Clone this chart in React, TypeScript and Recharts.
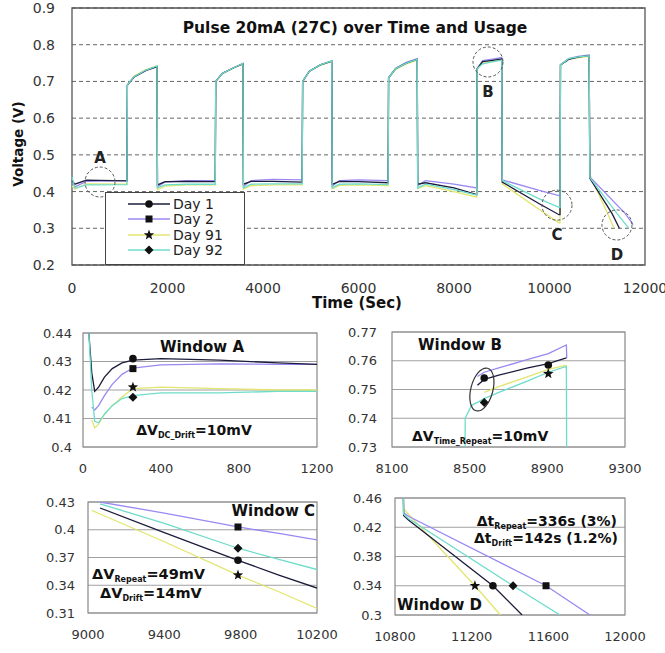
import React from "react";
import {
  LineChart,
  ComposedChart,
  Line,
  Scatter,
  XAxis,
  YAxis,
  CartesianGrid,
  ReferenceArea,
  ReferenceDot,
} from "recharts";

const FONT = '"DejaVu Sans", Verdana, sans-serif';

// series info
const dayNames = ["Day 1", "Day 2", "Day 91", "Day 92"];
const dayKeys = ["d1", "d2", "d91", "d92"];
const dayColors = ["#1c1c3c", "#9a88f2", "#e2e66e", "#6edccb"];
const dayMarkers = ["circle", "square", "star", "diamond"];
const drawOrder = [2, 1, 0, 3];

// main chart (0 - 12000 s)
const mainXTicks = [0, 2000, 4000, 6000, 8000, 10000, 12000];
const mainYTicks = [0.2, 0.3, 0.4, 0.5, 0.6, 0.7, 0.8, 0.9];
const mainTime = [
  0, 60, 300, 1150, 1160, 1300, 1550, 1780, 1790, 1950, 2400, 3000,
  3010, 3150, 3400, 3580, 3590, 3750, 4200, 4820,
  4830, 4970, 5200, 5440, 5450, 5600, 6000, 6620,
  6630, 6780, 7000, 7230, 7240, 7400, 8000, 8476,
  8486, 8600, 8800, 9000, 9010, 9786, 10200, 10220,
  10230, 10400, 10600, 10830, 10845, 11217, 11311, 11350, 11416, 11463, 11588, 11661, 11750,
];
const mainDay1 = [
  0.43, 0.42, 0.431, 0.429, 0.69, 0.712, 0.73, 0.74, 0.418, 0.427, 0.428, 0.427,
  0.7, 0.722, 0.738, 0.748, 0.42, 0.428, 0.428, 0.426,
  0.7, 0.728, 0.745, 0.755, 0.42, 0.428, 0.427, 0.424,
  0.71, 0.735, 0.75, 0.76, 0.42, 0.424, 0.41, 0.392,
  0.735, 0.754, 0.7575, 0.761, 0.426, 0.367, 0.337, 0.337,
  0.745, 0.76, 0.766, 0.77, 0.436, null, 0.34, null, null, 0.3, null, null, null,
];
const mainDay2 = [
  0.43, 0.413, 0.428, 0.43, 0.69, 0.712, 0.73, 0.74, 0.413, 0.426, 0.43, 0.43,
  0.7, 0.722, 0.738, 0.749, 0.414, 0.43, 0.433, 0.432,
  0.7, 0.728, 0.745, 0.756, 0.415, 0.43, 0.432, 0.43,
  0.71, 0.736, 0.752, 0.762, 0.416, 0.43, 0.42, 0.41,
  0.735, 0.757, 0.7605, 0.765, 0.432, 0.403, 0.389, 0.389,
  0.745, 0.762, 0.768, 0.772, 0.44, null, null, null, null, null, 0.34, null, 0.31,
];
const mainDay91 = [
  0.415, 0.407, 0.421, 0.42, 0.69, 0.715, 0.732, 0.742, 0.405, 0.415, 0.418, 0.418,
  0.7, 0.722, 0.738, 0.748, 0.407, 0.416, 0.418, 0.418,
  0.7, 0.727, 0.744, 0.754, 0.408, 0.417, 0.418, 0.416,
  0.71, 0.733, 0.748, 0.758, 0.408, 0.416, 0.4, 0.385,
  0.735, 0.75, 0.7545, 0.7585, 0.421, 0.351, 0.315, 0.315,
  0.745, 0.76, 0.765, 0.768, 0.445, 0.34, null, 0.3, null, null, null, null, null,
];
const mainDay92 = [
  0.44, 0.409, 0.418, 0.419, 0.69, 0.713, 0.731, 0.742, 0.41, 0.418, 0.42, 0.42,
  0.7, 0.722, 0.738, 0.749, 0.41, 0.42, 0.421, 0.421,
  0.7, 0.728, 0.745, 0.756, 0.41, 0.42, 0.421, 0.419,
  0.71, 0.735, 0.75, 0.76, 0.41, 0.42, 0.405, 0.39,
  0.735, 0.748, 0.753, 0.758, 0.43, 0.38, 0.357, 0.357,
  0.745, 0.762, 0.767, 0.77, 0.438, null, null, null, 0.34, null, null, 0.3, null,
];

// circled regions on the main chart
const circleLabels = ["A", "B", "C", "D"];
const circleT = [586, 8712, 10157, 11413];
const circleV = [0.426, 0.753, 0.363, 0.309];
const circleLabelPos = ["top", "bottom", "bottom", "bottom"];

// Window A
const aTime = [30, 45, 60, 80, 110, 150, 200, 256, 400, 700, 1000, 1200];
const aDay1 = [0.44, 0.426, 0.4195, 0.421, 0.4245, 0.4275, 0.4295, 0.4305, 0.431, 0.4305, 0.4295, 0.429];
const aDay2 = [null, 0.414, 0.413, 0.4145, 0.418, 0.422, 0.4255, 0.4277, 0.4288, 0.4292, 0.429, 0.429];
const aDay91 = [null, 0.4095, 0.4067, 0.408, 0.4115, 0.4145, 0.4175, 0.4205, 0.421, 0.4205, 0.42, 0.42];
const aDay92 = [0.44, 0.42, 0.409, 0.4085, 0.4115, 0.4145, 0.417, 0.418, 0.419, 0.419, 0.4195, 0.4195];
const aMarkT = [256, 256, 256, 256];
const aMarkV = [0.431, 0.4275, 0.421, 0.4175];

// Window B
const bTime = [8476, 8477, 8510, 8540, 8575, 8650, 8800, 8905, 8998, 9000];
const bDay1 = [null, null, null, 0.7515, 0.7535, 0.755, 0.7575, 0.759, 0.761, null];
const bDay2 = [null, null, null, 0.7545, 0.756, 0.7575, 0.7605, 0.7625, 0.7655, 0.761];
const bDay91 = [null, null, null, null, 0.749, 0.751, 0.7545, 0.757, 0.7585, null];
const bDay92 = [0.72, 0.74, 0.7445, 0.7455, 0.7468, 0.749, 0.753, 0.756, 0.758, 0.72];
const bMarkT = [8575, 8575, 8905, 8905];
const bMarkV = [0.754, 0.7455, 0.7555, 0.7585];
const bMarkKind = ["circle", "diamond", "star", "circle"];

// Window C
const cTime = [9000, 9020, 9063, 9400, 9786, 10000, 10200];
const cDay1 = [null, null, 0.4235, 0.397, 0.367, 0.351, 0.337];
const cDay2 = [null, null, 0.43, 0.418, 0.403, 0.396, 0.389];
const cDay91 = [null, 0.421, 0.417, 0.387, 0.351, 0.333, 0.315];
const cDay92 = [null, null, 0.428, 0.407, 0.38, 0.368, 0.357];
const cMarkT = [9786, 9786, 9786, 9786];
const cMarkV = [0.367, 0.403, 0.351, 0.38];

// Window D
const dTime = [10830, 10845, 10870, 11217, 11311, 11350, 11416, 11463, 11588, 11661, 11817];
const dDay1 = [0.77, 0.436, 0.43, null, 0.34, null, null, 0.3, null, null, null];
const dDay2 = [0.77, 0.44, 0.435, null, null, null, null, null, 0.34, null, 0.3];
const dDay91 = [0.77, 0.445, null, 0.34, null, 0.3, null, null, null, null, null];
const dDay92 = [0.77, 0.438, 0.432, null, null, null, 0.34, null, null, 0.3, null];
const dMarkT = [11311, 11588, 11217, 11416];
const dMarkV = [0.34, 0.34, 0.34, 0.34];

const toRows = (time: number[], s1: any[], s2: any[], s3: any[], s4: any[]) =>
  time.map((t, i) => ({ t, d1: s1[i], d2: s2[i], d91: s3[i], d92: s4[i] }));

const Marker = ({ cx, cy, kind }: any) => {
  if (cx == null || cy == null) return null;
  if (kind === "square") return <rect x={cx - 3.5} y={cy - 3.5} width={7} height={7} fill="#111" />;
  if (kind === "diamond")
    return <polygon points={`${cx},${cy - 4.5} ${cx + 4.5},${cy} ${cx},${cy + 4.5} ${cx - 4.5},${cy}`} fill="#111" />;
  if (kind === "star") {
    const pts: string[] = [];
    for (let k = 0; k < 10; k++) {
      const r = k % 2 === 0 ? 5.5 : 2.3;
      const a = -Math.PI / 2 + (k * Math.PI) / 5;
      pts.push(`${cx + r * Math.cos(a)},${cy + r * Math.sin(a)}`);
    }
    return <polygon points={pts.join(" ")} fill="#111" />;
  }
  return <circle cx={cx} cy={cy} r={3.8} fill="#111" />;
};

const Note = ({ x, y, size = 14, align = "left", weight = "bold", children }: any) => {
  const base: any = {
    position: "absolute",
    top: y - 0.12 * size,
    fontSize: size,
    fontWeight: weight,
    lineHeight: 1,
    whiteSpace: "nowrap",
    fontFamily: FONT,
    color: "#111",
  };
  if (align === "center") Object.assign(base, { left: x - 200, width: 400, textAlign: "center" });
  else if (align === "right") Object.assign(base, { left: x - 400, width: 400, textAlign: "right" });
  else base.left = x;
  return <div style={base}>{children}</div>;
};

const Sub = ({ children }: any) => (
  <span style={{ fontSize: 8, position: "relative", top: 3 }}>{children}</span>
);

const tickStyle = (size: number) => ({ fontSize: size, fill: "#333", fontFamily: FONT });

const Window = ({ plotLeft, plotTop, plotW, plotH, xDomain, xTicks, yDomain, yTicks, yMargin, rows, markT, markV, markKind, extra }: any) => {
  const yw = 50;
  const rm = 40;
  return (
    <div style={{ position: "absolute", left: plotLeft - yw, top: plotTop - 10 }}>
      <ComposedChart width={yw + plotW + rm} height={10 + plotH + 30} data={rows} margin={{ top: 10, right: rm, left: 0, bottom: 0 }}>
        <CartesianGrid vertical={false} stroke="#a0a0a0" />
        <XAxis dataKey="t" type="number" domain={xDomain} ticks={xTicks} allowDataOverflow height={30}
          tickLine={false} axisLine={false} tickMargin={11} tick={tickStyle(13)} interval={0} />
        <YAxis type="number" domain={yDomain} ticks={yTicks} allowDataOverflow width={yw}
          tickLine={false} axisLine={false} tickMargin={yMargin} tick={tickStyle(13)} interval={0} />
        {drawOrder.map((i) => (
          <Line key={dayKeys[i]} dataKey={dayKeys[i]} stroke={dayColors[i]} strokeWidth={1.3}
            dot={false} connectNulls isAnimationActive={false} />
        ))}
        {markT.map((t: number, i: number) => (
          <Scatter key={"m" + i} data={[{ t, v: markV[i] }]} dataKey="v" isAnimationActive={false}
            shape={(p: any) => <Marker cx={p.cx} cy={p.cy} kind={markKind ? markKind[i] : dayMarkers[i]} />} />
        ))}
        {extra}
        <ReferenceArea x1={xDomain[0]} x2={xDomain[1]} y1={yDomain[0]} y2={yDomain[1]} fill="none"
          stroke="#888" strokeWidth={1.2} ifOverflow="visible" />
      </ComposedChart>
    </div>
  );
};

export default function App() {
  const mainRows = toRows(mainTime, mainDay1, mainDay2, mainDay91, mainDay92);
  return (
    <div style={{ position: "absolute", left: 0, top: 0, width: 665, height: 653, background: "#fff", fontFamily: FONT, overflow: "hidden" }}>
      <div style={{ position: "absolute", left: 0, top: 0 }}>
        <LineChart width={690} height={310} data={mainRows} margin={{ top: 8, right: 45, left: 32, bottom: 15 }}>
          <CartesianGrid vertical={false} stroke="#666" strokeDasharray="4 3" />
          <XAxis dataKey="t" type="number" domain={[0, 12000]} ticks={mainXTicks} height={30}
            tickLine={false} axisLine={false} tickMargin={12} tick={tickStyle(14)} interval={0} />
          <YAxis type="number" domain={[0.2, 0.9]} ticks={mainYTicks} width={40} tickLine={false}
            axisLine={false} tickMargin={11} tick={tickStyle(14)} interval={0}
            tickFormatter={(v: number) => v.toFixed(1)} />
          {drawOrder.map((i) => (
            <Line key={dayKeys[i]} dataKey={dayKeys[i]} stroke={dayColors[i]} strokeWidth={1.3}
              dot={false} connectNulls isAnimationActive={false} />
          ))}
          {circleLabels.map((lab, i) => (
            <ReferenceDot key={lab} x={circleT[i]} y={circleV[i]} r={15} fill="none" stroke="#555"
              strokeDasharray="3 2" ifOverflow="visible"
              label={{ value: lab, position: circleLabelPos[i], offset: i === 0 ? 4 : 9, fontSize: 15,
                fontWeight: "bold", fill: "#222", fontFamily: FONT }} />
          ))}
          <ReferenceArea x1={0} x2={12000} y1={0.2} y2={0.9} fill="none" stroke="#555" strokeWidth={1.3} ifOverflow="visible" />
        </LineChart>
      </div>

      {/* legend */}
      <div style={{ position: "absolute", left: 105, top: 192, width: 140, height: 73, border: "1px solid #444",
        background: "#fff", boxSizing: "border-box" }}>
        {dayNames.map((name, i) => (
          <div key={name} style={{ position: "absolute", left: 0, top: 4 + i * 15.3, height: 14, width: 138 }}>
            <svg width={44} height={14} style={{ position: "absolute", left: 22, top: 0 }}>
              <line x1={0} y1={7} x2={42} y2={7} stroke={dayColors[i]} strokeWidth={1.6} />
              <Marker cx={21} cy={7} kind={dayMarkers[i]} />
            </svg>
            <span style={{ position: "absolute", left: 67, top: 0, fontSize: 14, lineHeight: "14px", color: "#222" }}>{name}</span>
          </div>
        ))}
      </div>

      <Note x={355} y={23} size={15.5} align="center">Pulse 20mA (27C) over Time and Usage</Note>
      <Note x={357} y={298} size={15} align="center">Time (Sec)</Note>
      <div style={{ position: "absolute", left: 18 - 70, top: 144 - 8, width: 140, height: 16, lineHeight: "16px",
        textAlign: "center", transform: "rotate(-90deg)", fontSize: 13.5, fontWeight: "bold", color: "#111" }}>
        Voltage (V)
      </div>

      <Window plotLeft={83} plotTop={333} plotW={234} plotH={114} xDomain={[0, 1200]} xTicks={[0, 400, 800, 1200]}
        yDomain={[0.4, 0.44]} yTicks={[0.4, 0.41, 0.42, 0.43, 0.44]} yMargin={5}
        rows={toRows(aTime, aDay1, aDay2, aDay91, aDay92)} markT={aMarkT} markV={aMarkV} />
      <Window plotLeft={392} plotTop={332} plotW={233} plotH={115} xDomain={[8100, 9300]} xTicks={[8100, 8500, 8900, 9300]}
        yDomain={[0.73, 0.77]} yTicks={[0.73, 0.74, 0.75, 0.76, 0.77]} yMargin={9}
        rows={toRows(bTime, bDay1, bDay2, bDay91, bDay92)} markT={bMarkT} markV={bMarkV} markKind={bMarkKind}
        extra={
          <ReferenceDot x={8563} y={0.75} r={12} ifOverflow="visible"
            shape={(p: any) => (
              <ellipse cx={p.cx} cy={p.cy} rx={11} ry={22} fill="none" stroke="#333" strokeWidth={1.2}
                transform={`rotate(15 ${p.cx} ${p.cy})`} />
            )} />
        } />
      <Window plotLeft={88} plotTop={502} plotW={229} plotH={111} xDomain={[9000, 10200]} xTicks={[9000, 9400, 9800, 10200]}
        yDomain={[0.31, 0.43]} yTicks={[0.31, 0.34, 0.37, 0.4, 0.43]} yMargin={7}
        rows={toRows(cTime, cDay1, cDay2, cDay91, cDay92)} markT={cMarkT} markV={cMarkV} />
      <Window plotLeft={395} plotTop={498} plotW={230} plotH={117} xDomain={[10800, 12000]} xTicks={[10800, 11200, 11600, 12000]}
        yDomain={[0.3, 0.46]} yTicks={[0.3, 0.34, 0.38, 0.42, 0.46]} yMargin={7}
        rows={toRows(dTime, dDay1, dDay2, dDay91, dDay92)} markT={dMarkT} markV={dMarkV} />

      <Note x={202} y={342} size={15} align="center">Window A</Note>
      <Note x={194} y={425} size={14} align="center">ΔV<Sub>DC_Drift</Sub>=10mV</Note>
      <Note x={418} y={340} size={15}>Window B</Note>
      <Note x={412} y={431} size={14}>ΔV<Sub>Time_Repeat</Sub>=10mV</Note>
      <Note x={315} y={506} size={15} align="right">Window C</Note>
      <Note x={92} y={569} size={14.5}>ΔV<Sub>Repeat</Sub>=49mV</Note>
      <Note x={100} y={588} size={14.5}>ΔV<Sub>Drift</Sub>=14mV</Note>
      <Note x={617} y={516} size={14} align="right">Δt<Sub>Repeat</Sub>=336s (3%)</Note>
      <Note x={618} y={533} size={14} align="right">Δt<Sub>Drift</Sub>=142s (1.2%)</Note>
      <Note x={397} y={600} size={15}>Window D</Note>
    </div>
  );
}
